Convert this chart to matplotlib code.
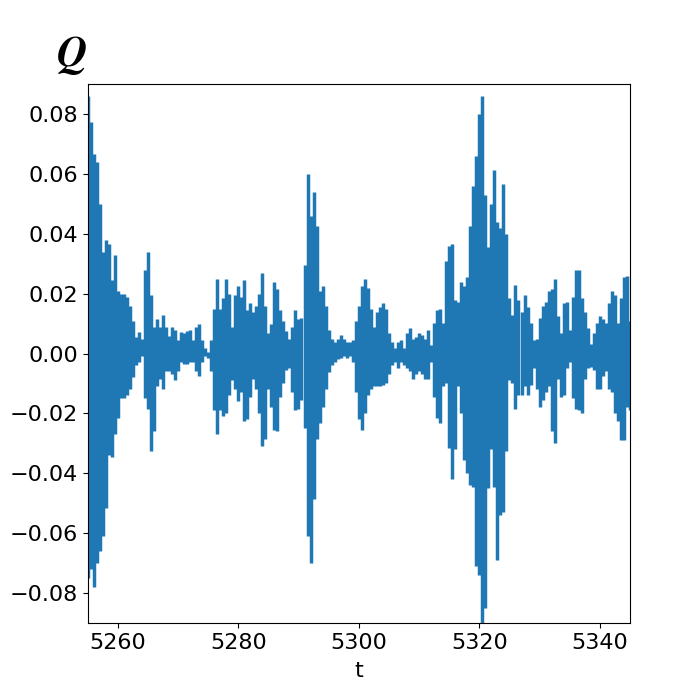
import numpy as np
import matplotlib
matplotlib.use('Agg')
import matplotlib.pyplot as plt

plt.rcParams['mathtext.fontset'] = 'cm'

# envelope of Q(t), one pair per 0.5 in t
t0 = 5255.0
dt = 0.5
q_upper = [0.0861, 0.0773, 0.0667, 0.064, 0.050, 0.0338, 0.038, 0.0367, 0.0244, 0.033,
           0.021, 0.020, 0.020, 0.019, 0.016, 0.011, 0.0055, 0.0073, 0.005, 0.028,
           0.034, 0.0196, 0.009, 0.0114, 0.009, 0.0128, 0.009, 0.006, 0.009, 0.008,
           0.0044, 0.0073, 0.007, 0.0076, 0.008, 0.0044, 0.009, 0.010, 0.0044, 0.002,
           0.0005, 0.0044, 0.015, 0.025, 0.015, 0.0185, 0.025, 0.020, 0.009, 0.0196,
           0.0226, 0.019, 0.0244, 0.0144, 0.0167, 0.0138, 0.016, 0.020, 0.027, 0.016,
           0.0067, 0.010, 0.024, 0.0214, 0.0144, 0.011, 0.0076, 0.005, 0.009, 0.0144,
           0.0114, 0.012, 0.0296, 0.060, 0.046, 0.054, 0.0426, 0.021, 0.0226, 0.016,
           0.0079, 0.005, 0.004, 0.005, 0.0061, 0.005, 0.004, 0.0038, 0.0044, 0.011,
           0.016, 0.0226, 0.025, 0.022, 0.015, 0.009, 0.0138, 0.0155, 0.0167, 0.015,
           0.0067, 0.0038, 0.002, 0.0038, 0.0044, 0.002, 0.0067, 0.0085, 0.005, 0.0055,
           0.0067, 0.0061, 0.005, 0.0079, 0.003, 0.0102, 0.0144, 0.015, 0.0102, 0.031,
           0.036, 0.0367, 0.018, 0.0173, 0.0238, 0.0226, 0.0255, 0.0426, 0.056, 0.066,
           0.080, 0.086, 0.053, 0.0355, 0.050, 0.0614, 0.0438, 0.042, 0.0567, 0.040,
           0.0185, 0.013, 0.023, 0.018, 0.0138, 0.0196, 0.0155, 0.0102, 0.0044, 0.005,
           0.012, 0.016, 0.0173, 0.021, 0.0214, 0.025, 0.0126, 0.0067, 0.0167, 0.0173,
           0.0079, 0.019, 0.028, 0.028, 0.0185, 0.0138, 0.0085, 0.0032, 0.0067, 0.0102,
           0.0126, 0.0114, 0.0102, 0.0167, 0.021, 0.0196, 0.0102, 0.0185, 0.0255, 0.026,
           0.0108]
q_lower = [-0.075, -0.072, -0.078, -0.070, -0.066, -0.061, -0.0515, -0.034, -0.0345, -0.027,
           -0.0215, -0.015, -0.015, -0.014, -0.012, -0.008, -0.004, -0.0027, -0.001, -0.015,
           -0.0186, -0.0327, -0.026, -0.011, -0.0086, -0.012, -0.006, -0.006, -0.007, -0.009,
           -0.006, -0.003, -0.0036, -0.0036, -0.003, -0.0027, -0.006, -0.0074, -0.0027, -0.001,
           -0.0015, -0.006, -0.019, -0.027, -0.019, -0.021, -0.020, -0.014, -0.009, -0.012,
           -0.016, -0.0127, -0.0227, -0.022, -0.0145, -0.0086, -0.012, -0.020, -0.031, -0.0286,
           -0.012, -0.018, -0.0256, -0.026, -0.0145, -0.0098, -0.0056, -0.005, -0.013, -0.019,
           -0.0186, -0.0156, -0.025, -0.061, -0.070, -0.0486, -0.0286, -0.0233, -0.018, -0.012,
           -0.0062, -0.004, -0.0027, -0.002, -0.0015, -0.001, -0.0015, -0.001, -0.0027, -0.013,
           -0.022, -0.0256, -0.0198, -0.014, -0.012, -0.011, -0.011, -0.011, -0.0104, -0.0098,
           -0.0068, -0.004, -0.0027, -0.005, -0.003, -0.004, -0.005, -0.006, -0.0086, -0.0068,
           -0.006, -0.0068, -0.0086, -0.0086, -0.0027, -0.0145, -0.0215, -0.0233, -0.011, -0.0098,
           -0.0315, -0.042, -0.032, -0.011, -0.0198, -0.0355, -0.040, -0.0439, -0.0445, -0.071,
           -0.074, -0.095, -0.085, -0.045, -0.032, -0.0445, -0.069, -0.054, -0.053, -0.0327,
           -0.009, -0.0098, -0.0186, -0.014, -0.014, -0.011, -0.014, -0.0104, -0.005, -0.012,
           -0.018, -0.0156, -0.0127, -0.011, -0.026, -0.0298, -0.0086, -0.0145, -0.014, -0.005,
           -0.0027, -0.015, -0.0186, -0.019, -0.0198, -0.0086, -0.005, -0.0045, -0.0056, -0.012,
           -0.012, -0.0074, -0.006, -0.012, -0.013, -0.0198, -0.0227, -0.029, -0.029, -0.018,
           -0.019]

t = t0 + dt * np.arange(len(q_upper))

fig, ax = plt.subplots(figsize=(7, 7), dpi=100)
# each sample drawn as a stroke from its low to its high swing
ax.vlines(t, q_lower, q_upper, color='#1f77b4', linewidth=2.5, capstyle='butt')
ax.set_xlim(5255, 5345)
ax.set_ylim(-0.09, 0.09)
ax.set_xticks([5260, 5280, 5300, 5320, 5340])
ax.set_yticks([-0.08, -0.06, -0.04, -0.02, 0.0, 0.02, 0.04, 0.06, 0.08])
ax.tick_params(labelsize=16)
ax.set_xlabel('t', fontsize=16, labelpad=6)
ax.set_title(r'$\boldsymbol{Q}$', loc='left', x=-0.058, fontsize=30, pad=13)

plt.savefig('out.png', dpi=100)
